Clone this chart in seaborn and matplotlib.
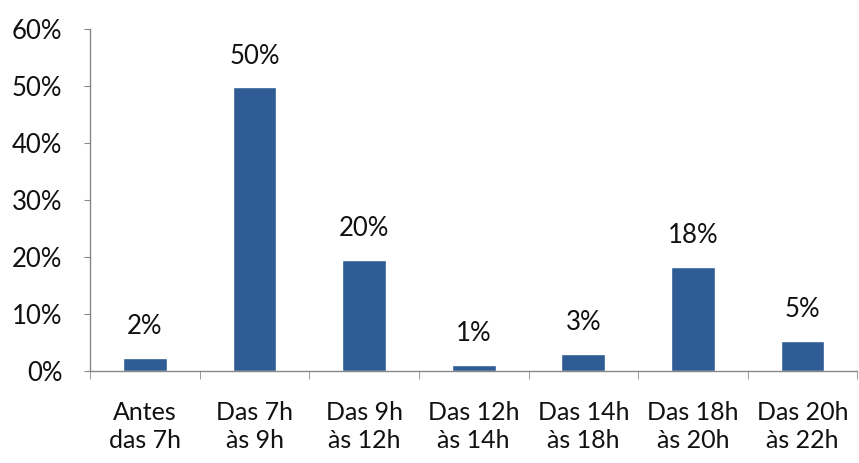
import matplotlib
matplotlib.use("Agg")
import matplotlib.pyplot as plt
import seaborn as sns
import pandas as pd
import numpy as np
from matplotlib.ticker import FuncFormatter, FixedLocator

categories = ["Antes\ndas 7h", "Das 7h\nàs 9h", "Das 9h\nàs 12h", "Das 12h\nàs 14h",
              "Das 14h\nàs 18h", "Das 18h\nàs 20h", "Das 20h\nàs 22h"]
values = [2.3, 49.8, 19.5, 1.05, 3.0, 18.3, 5.3]
labels = ["2%", "50%", "20%", "1%", "3%", "18%", "5%"]
yticks = [0, 10, 20, 30, 40, 50, 60]

sns.set_style("white")
plt.rcParams['font.family'] = ['Lato', 'DejaVu Sans']

df = pd.DataFrame({"cat": categories, "val": values})
fig = plt.figure(figsize=(8.59, 4.63), dpi=100)
ax = fig.add_axes([0.105, 0.199, 0.893, 0.738])
sns.barplot(data=df, x="cat", y="val", color="#2F5C95", width=0.4, ax=ax, saturation=1)

ax.set_ylim(0, 60)
ax.set_xlim(-0.5, len(categories) - 0.5)
ax.set_yticks(yticks)
ax.yaxis.set_major_formatter(FuncFormatter(lambda v, p: f"{int(v)}%"))
ax.set_xlabel("")
ax.set_ylabel("")
ax.tick_params(axis='y', labelsize=18.5, length=4, color='#888888', left=True, pad=16,
               labelcolor='#111111')
ax.tick_params(axis='x', which='major', labelsize=18, length=0, pad=22, labelcolor='#111111')
for t in ax.get_xticklabels():
    t.set_linespacing(1.25)
ax.xaxis.set_minor_locator(FixedLocator(np.arange(-0.5, len(categories) + 0.5, 1)))
ax.tick_params(axis='x', which='minor', length=6, color='#888888', bottom=True)

for s in ['top', 'right']:
    ax.spines[s].set_visible(False)
for s in ['left', 'bottom']:
    ax.spines[s].set_color('#888888')
    ax.spines[s].set_linewidth(1)

for i, (v, lab) in enumerate(zip(values, labels)):
    ax.annotate(lab, (i, v), xytext=(0, 17), textcoords='offset points',
                ha='center', va='baseline', fontsize=18.5, color='#111111')

fig.savefig("out.png", dpi=100)
